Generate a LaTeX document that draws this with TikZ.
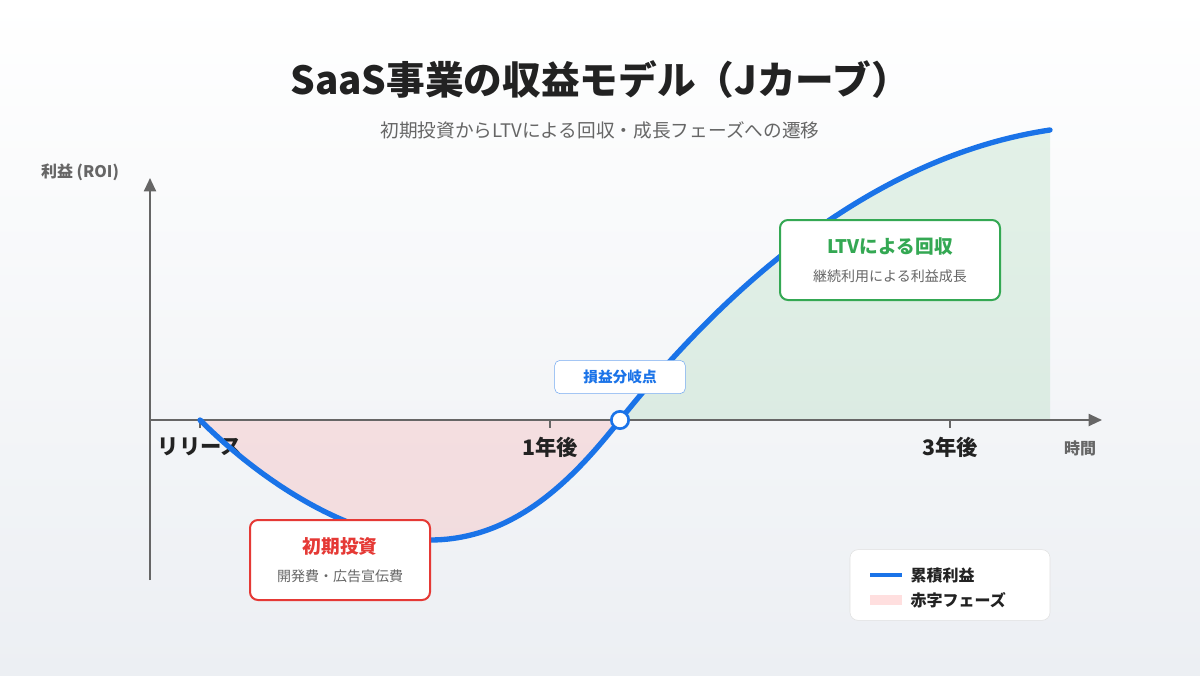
\documentclass[tikz,border=0pt]{standalone}
\usepackage{fontspec}
\setmainfont{Noto Sans CJK JP}
\usetikzlibrary{positioning,arrows.meta,calc}
\definecolor{curveblue}{HTML}{1A73E8}
\definecolor{lossred}{HTML}{E53935}
\definecolor{gaingreen}{HTML}{34A853}
\definecolor{axisgray}{HTML}{666666}
\definecolor{textdark}{HTML}{222222}

\begin{document}
\begin{tikzpicture}[
    x=0.75pt, y=-0.75pt,
    callout/.style={rectangle, draw, rounded corners=6pt, line width=1.5pt, fill=white, align=center, minimum width=135pt, minimum height=60pt},
    axis/.style={-{Triangle[length=10pt,width=9pt]}, line width=1.5pt, color=axisgray},
    ticklabel/.style={font=\fontsize{16}{19}\selectfont\bfseries, text=textdark}
]
% background
\shade[top color=white, bottom color={rgb,255:red,236;green,239;blue,243}] (0,0) rectangle (1200,675);
\useasboundingbox (0,0) rectangle (1200,675);

% title
\node[font=\fontsize{29}{34}\selectfont\bfseries, text=textdark] (title) at (600,80) {SaaS事業の収益モデル（Jカーブ）};
\node[font=\fontsize{14}{17}\selectfont, text=axisgray] (subtitle) at (600,130) {初期投資からLTVによる回収・成長フェーズへの遷移};

% shaded phases
\fill[red!50!pink, opacity=0.15] (200,420) .. controls (260,480) and (350,540) .. (430,540)
    .. controls (520,540) and (580,470) .. (620,420) -- cycle;
\fill[gaingreen, opacity=0.12] (620,420) .. controls (700,320) and (850,160) .. (1050,130) -- (1050,420) -- cycle;

% axes
\coordinate (ybottom) at (150,580);
\coordinate (ytop) at (150,178);
\coordinate (xleft) at (150,420);
\coordinate (xright) at (1102,420);
\draw[axis] (ybottom) -- (ytop);
\draw[axis] (xleft) -- (xright);
\node[font=\fontsize{12}{14}\selectfont\bfseries, text=axisgray] (ylabel) at (80,172) {利益 (ROI)};
\node[font=\fontsize{12}{14}\selectfont\bfseries, text=axisgray] (xlabel) at (1080,448) {時間};

% ticks
\foreach \px/\lab/\nm in {200/リリース/release, 550/1年後/year1, 950/3年後/year3} {
    \draw[axisgray, line width=1pt] (\px,420) -- (\px,428);
    \node[ticklabel] (\nm) at (\px,447) {\lab};
}

% cumulative profit curve
\draw[curveblue, line width=4pt, line cap=round] (200,420) .. controls (260,480) and (350,540) .. (430,540)
    .. controls (520,540) and (580,470) .. (620,420)
    .. controls (700,320) and (850,160) .. (1050,130);

% break-even
\node[circle, draw=curveblue, line width=2pt, fill=white, minimum size=13pt, inner sep=0pt] (breakeven) at (620,420) {};
\node[rectangle, rounded corners=4pt, draw=curveblue!60, fill=white, font=\fontsize{11}{13}\selectfont\bfseries, text=curveblue, minimum width=98pt, minimum height=25pt] (belabel) at (620,377) {損益分岐点};

% callouts
\node[callout, draw=lossred] (invest) at (340,560) {%
    {\fontsize{14}{17}\selectfont\bfseries\color{lossred}初期投資}\\[9pt]
    {\fontsize{10.5}{12}\selectfont\color{axisgray}開発費・広告宣伝費}};
\node[callout, draw=gaingreen, minimum width=165pt] (recover) at (890,260) {%
    {\fontsize{14}{17}\selectfont\bfseries\color{gaingreen}LTVによる回収}\\[9pt]
    {\fontsize{10.5}{12}\selectfont\color{axisgray}継続利用による利益成長}};

% legend
\node[rectangle, rounded corners=6pt, draw=black!12, fill=white, minimum width=150pt, minimum height=53pt] (legend) at (950,585) {};
\coordinate (lineA) at (870,575);
\coordinate (lineB) at (902,575);
\draw[curveblue, line width=3pt] (lineA) -- (lineB);
\node[anchor=west, font=\fontsize{12}{14}\selectfont\bfseries, text=textdark] (legcurve) at (906,575) {累積利益};
\fill[red!50!pink, opacity=0.2] (870,595) rectangle (902,605);
\node[anchor=west, font=\fontsize{12}{14}\selectfont\bfseries, text=textdark] (legloss) at (906,600) {赤字フェーズ};
\end{tikzpicture}
\end{document}
